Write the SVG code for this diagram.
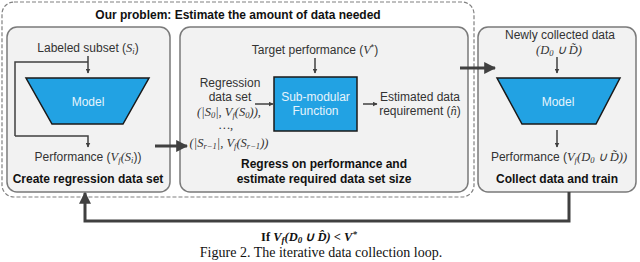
<svg xmlns="http://www.w3.org/2000/svg" width="640" height="262" viewBox="0 0 640 262">
<defs>
<style>
.t{font-family:"Liberation Sans",Arial,sans-serif;font-size:12px;fill:#333;text-anchor:middle}
.b{font-family:"Liberation Sans",Arial,sans-serif;font-size:12px;font-weight:bold;fill:#111;text-anchor:middle}
.m{font-family:"Liberation Serif","Times New Roman",serif;font-style:italic;font-size:12.5px}
.s{font-size:8.5px}
.w{font-family:"Liberation Sans",Arial,sans-serif;font-size:12px;fill:#e6f4fc;text-anchor:middle}
.box{fill:#f2f2f2;stroke:#7a7a7a;stroke-width:1.5}
.blue{fill:#22a2e3;stroke:#1a1a1a;stroke-width:1.5}
.ln{fill:none;stroke:#404040;stroke-width:1.5}
.thick{fill:none;stroke:#404040;stroke-width:3}
.cap{font-family:"Liberation Serif","Times New Roman",serif;font-size:14px;fill:#111;text-anchor:middle}
</style>
<marker id="ah" viewBox="0 0 10 10" refX="9" refY="5" markerWidth="5" markerHeight="5" orient="auto" markerUnits="userSpaceOnUse">
<path d="M0,0 L10,5 L0,10 z" fill="#404040"/>
</marker>
<marker id="ahb" viewBox="0 0 10 10" refX="9" refY="5" markerWidth="4" markerHeight="4" orient="auto">
<path d="M0,0 L10,5 L0,10 z" fill="#404040"/>
</marker>
</defs>
<rect width="640" height="262" fill="#fff"/>
<g id="outer">
<rect x="2" y="2" width="472" height="195" rx="12" fill="none" stroke="#808080" stroke-width="1.2" stroke-dasharray="4,2"/>
<text class="b" x="238" y="19" font-size="11.8">Our problem: Estimate the amount of data needed</text>
</g>
<g id="create">
<rect class="box" x="7" y="27" width="163" height="165" rx="10"/>
<text class="t" x="88" y="52">Labeled subset (<tspan class="m">S<tspan class="s" dy="2">i</tspan></tspan><tspan dy="-2">)</tspan></text>
<polygon class="blue" points="26,78 149,78 123,124 52,124"/>
<text class="w" x="88" y="106">Model</text>
<text class="t" x="88" y="161">Performance (<tspan class="m">V<tspan class="s" dy="2">f</tspan><tspan dy="-2">(S</tspan><tspan class="s" dy="2">i</tspan></tspan><tspan dy="-2">))</tspan></text>
<text class="b" x="88" y="183">Create regression data set</text>
</g>
<g id="regress">
<rect class="box" x="180" y="27" width="288" height="165" rx="10"/>
<text class="t" x="315" y="54">Target performance (<tspan class="m">V</tspan><tspan class="s" dy="-4">*</tspan><tspan dy="4">)</tspan></text>
<rect class="blue" x="274" y="77" width="83" height="54"/>
<text class="w" x="315.5" y="101">Sub-modular</text>
<text class="w" x="315.5" y="115">Function</text>
<text class="t" x="230" y="87">Regression</text>
<text class="t" x="230" y="101">data set</text>
<text class="t" x="229" y="116"><tspan class="m">(|S<tspan class="s" dy="2">0</tspan><tspan dy="-2">|, V</tspan><tspan class="s" dy="2">f</tspan><tspan dy="-2">(S</tspan><tspan class="s" dy="2">0</tspan><tspan dy="-2">)),</tspan></tspan></text>
<text class="t" x="226" y="129"><tspan class="m">…,</tspan></text>
<text class="t" x="229" y="147"><tspan class="m">(|S<tspan class="s" dy="2">r−1</tspan><tspan dy="-2">|, V</tspan><tspan class="s" dy="2">f</tspan><tspan dy="-2">(S</tspan><tspan class="s" dy="2">r−1</tspan><tspan dy="-2">))</tspan></tspan></text>
<text class="t" x="420" y="101">Estimated data</text>
<text class="t" x="420" y="115">requirement (<tspan class="m">n̂</tspan>)</text>
<text class="b" x="324" y="168">Regress on performance and</text>
<text class="b" x="324" y="183">estimate required data set size</text>
</g>
<g id="collect">
<rect class="box" x="478" y="27" width="158" height="165" rx="10"/>
<text class="t" x="560" y="39">Newly collected data</text>
<text class="t" x="559" y="54"><tspan class="m">(D<tspan class="s" dy="2">0</tspan><tspan dy="-2"> ∪ D̃)</tspan></tspan></text>
<polygon class="blue" points="497,78 620,78 596,124 522,124"/>
<text class="w" x="558" y="106">Model</text>
<text class="t" x="559" y="161">Performance (<tspan class="m">V<tspan class="s" dy="2">f</tspan><tspan dy="-2">(D</tspan><tspan class="s" dy="2">0</tspan><tspan dy="-2"> ∪ D̃))</tspan></tspan></text>
<text class="b" x="557" y="183">Collect data and train</text>
</g>
<g id="connectors">
<path class="ln" d="M88,56 V73" marker-end="url(#ah)"/>
<path class="ln" d="M15,136 V62 H88" />
<path class="ln" d="M15,136 H88 V147" marker-end="url(#ah)"/>
<path class="ln" d="M315,58 V73" marker-end="url(#ah)"/>
<path class="ln" d="M255,104 H273" marker-end="url(#ah)"/>
<path class="ln" d="M363,104 H377" marker-end="url(#ah)"/>
<path class="ln" d="M557,57 V73" marker-end="url(#ah)"/>
<path class="ln" d="M557,130 V147" marker-end="url(#ah)"/>
<path class="thick" d="M155,146 H187" marker-end="url(#ahb)"/>
<path class="thick" d="M460,68 H495" marker-end="url(#ahb)"/>
<path class="thick" d="M569,192 V221 H85 V193" marker-end="url(#ahb)"/>
</g>
<text x="309" y="241" font-family="Liberation Serif,serif" font-size="12.5px" font-weight="bold" fill="#111" text-anchor="middle">If <tspan font-style="italic">V<tspan font-size="9" dy="2">f</tspan><tspan dy="-2">(D</tspan><tspan font-size="9" dy="2">0</tspan><tspan dy="-2"> ∪ D̂) &lt; V</tspan><tspan font-size="9" dy="-4">*</tspan></tspan></text>
<text class="cap" x="321" y="257">Figure 2.  The iterative data collection loop.</text>
</svg>
